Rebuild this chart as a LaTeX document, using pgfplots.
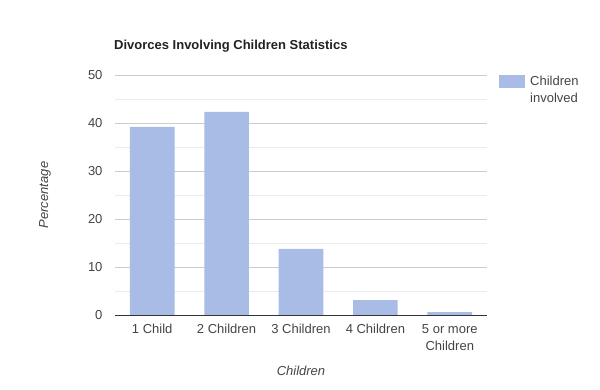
\documentclass[border=0pt]{standalone}
\usepackage{pgfplots}
\pgfplotsset{compat=1.18}
\usepackage{fontspec}
\setmainfont{Liberation Sans}
\definecolor{barc}{RGB}{168,188,230}
\definecolor{tickc}{RGB}{68,68,68}
\definecolor{majg}{RGB}{204,204,204}
\definecolor{ming}{RGB}{235,235,235}
\begin{document}
\begin{tikzpicture}[x=1pt,y=1pt]
\path[use as bounding box] (0,0) rectangle (600,390);
\node[anchor=base west, font=\fontsize{13}{15}\selectfont\bfseries, text=black!87, inner sep=0] at (114,340) {Divorces Involving Children Statistics};
\begin{axis}[
  at={(115pt,75pt)}, anchor=south west,
  scale only axis, width=372pt, height=240pt,
  ymin=0, ymax=50,
  xmin=-0.5, xmax=4.5,
  ytick={0,10,20,30,40,50},
  minor ytick={5,15,25,35,45},
  ymajorgrids, yminorgrids,
  major grid style={majg, line width=0.8pt},
  minor grid style={ming, line width=0.8pt},
  xtick=data,
  xticklabels={1 Child,2 Children,3 Children,4 Children,{5 or more\\Children}},
  xticklabel style={align=center, font=\fontsize{13}{17}\selectfont, text=tickc, yshift=-6pt},
  yticklabel style={font=\fontsize{13}{15}\selectfont, text=tickc, xshift=-9pt},
  /pgf/number format/assume math mode=true,
  axis line style={draw=none},
  major tick length=0pt, minor tick length=0pt,
  every axis x label/.style={at={(rel axis cs:0.5,0)}, anchor=center, yshift=-56pt, font=\fontsize{13}{15}\selectfont\itshape, text=tickc},
  every axis y label/.style={at={(rel axis cs:0,0.5)}, rotate=90, anchor=center, yshift=70pt, font=\fontsize{13}{15}\selectfont\itshape, text=tickc},
  xlabel={Children}, ylabel={Percentage},
  legend style={at={(1,1)}, anchor=north west, xshift=9pt, yshift=8pt, draw=none, fill=none, font=\fontsize{13}{16.5}\selectfont, text=tickc, cells={align=left, anchor=north west}},
  legend image code/.code={\path[fill=none, draw=none] (0pt,-6pt) rectangle (29pt,5pt); \fill[barc] (0pt,-14pt) rectangle (26pt,-1pt);},
  clip=false,
]
\addplot[ybar, bar width=0.6, fill=barc, draw=none] coordinates {(0,39.2) (1,42.3) (2,13.8) (3,3.1) (4,0.6)};
\addlegendentry{Children\\involved}
\draw[color=black!80, line width=0.8pt] (axis cs:-0.5,0) -- (axis cs:4.5,0);
\end{axis}
\end{tikzpicture}
\end{document}
